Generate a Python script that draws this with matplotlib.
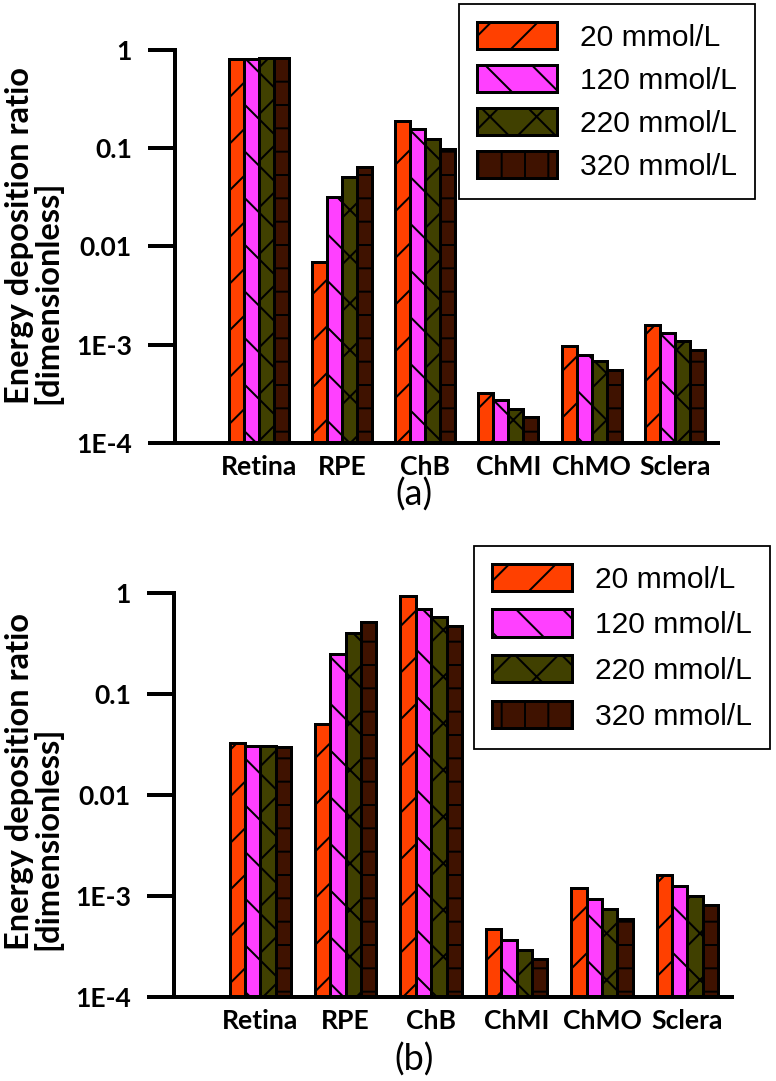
import numpy as np
import matplotlib
matplotlib.use('Agg')
import matplotlib.pyplot as plt
from matplotlib.patches import Patch

tissues = ['Retina', 'RPE', 'ChB', 'ChMI', 'ChMO', 'Sclera']
concentrations = ['20 mmol/L', '120 mmol/L', '220 mmol/L', '320 mmol/L']

# panel (a) energy deposition ratio, one list per concentration
a_20 = [0.80, 0.0070, 0.19, 3.2e-4, 9.6e-4, 1.60e-3]
a_120 = [0.81, 0.032, 0.157, 2.77e-4, 7.9e-4, 1.33e-3]
a_220 = [0.82, 0.051, 0.125, 2.24e-4, 6.9e-4, 1.10e-3]
a_320 = [0.83, 0.065, 0.099, 1.82e-4, 5.5e-4, 8.9e-4]

# panel (b)
b_20 = [0.0327, 0.0505, 0.93, 4.7e-4, 1.20e-3, 1.61e-3]
b_120 = [0.0305, 0.249, 0.69, 3.66e-4, 9.3e-4, 1.26e-3]
b_220 = [0.0305, 0.40, 0.58, 2.92e-4, 7.4e-4, 1.00e-3]
b_320 = [0.0299, 0.516, 0.47, 2.38e-4, 5.9e-4, 8.1e-4]

yticks = [1e-4, 1e-3, 1e-2, 1e-1, 1]
ytick_labels = ['1E-4', '1E-3', '0.01', '0.1', '1']

colors = ['#FF4000', '#FF40FF', '#404000', '#3F1200']
hatches = ['/', '\\', 'x', '-']
legend_hatches = ['/', '\\', 'x', '|']

DPI = 140


def px(v):
    # pixels -> points
    return v * 72 / DPI


plt.rcParams['hatch.linewidth'] = px(2)

fig = plt.figure(figsize=(776 / DPI, 1081 / DPI), dpi=DPI)
ax_a = fig.add_axes([0.2255, 0.5902, 0.6997, 0.3636])
ax_b = fig.add_axes([0.2242, 0.0777, 0.719, 0.3737])

x = np.arange(len(tissues))
w = 0.18


def draw_panel(ax, series, tag, tag_y, legend_anchor, lab_space):
    ax.set_yscale('log')
    for i, vals in enumerate(series):
        ax.bar(x + (i - 1.5) * w, vals, w, color=colors[i], edgecolor='black',
               linewidth=px(3), hatch=hatches[i])
    ax.set_ylim(1e-4, 1)
    ax.set_xlim(-1.01, 5.52)
    ax.set_yticks(yticks)
    ax.set_yticklabels(ytick_labels)
    ax.minorticks_off()
    ax.set_xticks(x)
    ax.set_xticklabels(tissues)
    for lab in ax.get_xticklabels() + ax.get_yticklabels():
        lab.set_fontfamily('Lato')
        lab.set_fontweight('bold')
        lab.set_fontsize(px(26.5))
    ax.tick_params(axis='y', length=px(27), width=px(4), pad=px(16))
    ax.tick_params(axis='x', length=0, pad=px(12))
    for s in ['top', 'right']:
        ax.spines[s].set_visible(False)
    for s in ['left', 'bottom']:
        ax.spines[s].set_linewidth(px(4))
    handles = [Patch(facecolor=colors[i], edgecolor='black', linewidth=px(3),
                     hatch=legend_hatches[i], label=concentrations[i]) for i in range(4)]
    leg = ax.legend(handles=handles, loc='upper right', bbox_to_anchor=legend_anchor,
                    bbox_transform=fig.transFigure,
                    prop={'family': 'Liberation Sans', 'size': px(30)},
                    handlelength=2.67, handleheight=1.03, labelspacing=lab_space,
                    handletextpad=0.77, borderpad=0.6, borderaxespad=0,
                    fancybox=False, framealpha=1, edgecolor='black')
    leg.get_frame().set_linewidth(px(1.8))
    fig.text(414 / 776, tag_y, tag, ha='center', va='center', fontsize=px(36), family='Lato')


draw_panel(ax_a, [a_20, a_120, a_220, a_320], '(a)', 1 - 495 / 1081, (0.973, 0.9963), 0.43)
draw_panel(ax_b, [b_20, b_120, b_220, b_320], '(b)', 1 - 1060 / 1081, (0.992, 0.495), 0.52)

ylabel = 'Energy deposition ratio\n[dimensionless]'
for yc in [1 - 236 / 1081, 1 - 781 / 1081]:
    fig.text(34 / 776, yc, ylabel, rotation=90, ha='center', va='center',
             multialignment='left', fontsize=px(32.5), family='Lato', fontweight='bold',
             linespacing=0.95)

fig.savefig('out.png', dpi=DPI)
